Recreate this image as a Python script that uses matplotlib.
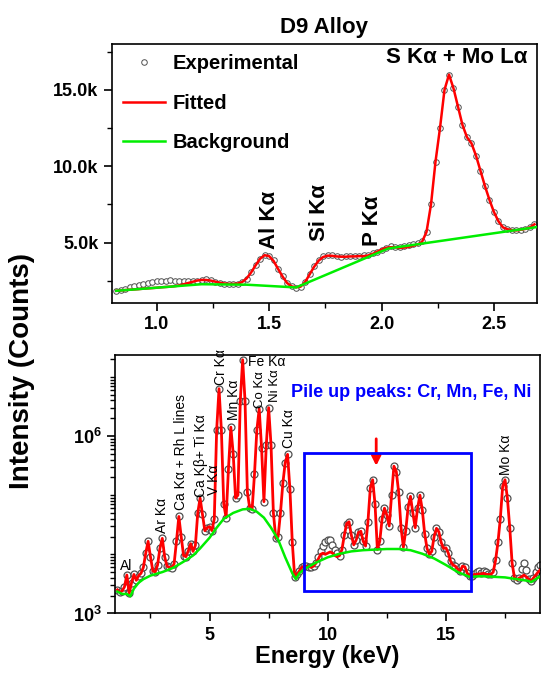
import numpy as np
import matplotlib
matplotlib.use('Agg')
import matplotlib.pyplot as plt
from matplotlib.patches import Rectangle
from matplotlib.ticker import MultipleLocator, FixedLocator, LogLocator, FuncFormatter, NullFormatter

plt.rcParams['font.family'] = ['Liberation Sans', 'DejaVu Sans']
plt.rcParams['font.weight'] = 'bold'
plt.rcParams['mathtext.fontset'] = 'custom'
plt.rcParams['mathtext.rm'] = 'Liberation Sans'
plt.rcParams['mathtext.bf'] = 'Liberation Sans:bold'

# ---- low energy window (counts in thousands), 0.02 keV channels ----
low_energy = np.round(np.arange(0.82, 2.681, 0.02), 2)
low_exp = [1.86, 1.92, 2.00, 2.08, 2.15, 2.22, 2.32, 2.38, 2.42, 2.46,
           2.50, 2.48, 2.54, 2.50, 2.52, 2.48, 2.50, 2.46, 2.52, 2.58,
           2.60, 2.55, 2.45, 2.38, 2.30, 2.27, 2.32, 2.30, 2.40, 2.65,
           3.05, 3.55, 3.95, 4.18, 4.15, 3.85, 3.30, 2.80, 2.38, 2.14,
           2.06, 2.10, 2.45, 2.95, 3.45, 3.85, 4.10, 4.20, 4.18, 4.10,
           4.08, 4.12, 4.10, 4.14, 4.12, 4.18, 4.20, 4.30, 4.40, 4.55,
           4.68, 4.76, 4.74, 4.72, 4.78, 4.85, 4.92, 4.98, 5.10, 5.70,
           7.50, 10.30, 12.50, 15.00, 16.00, 15.10, 13.90, 12.70, 11.90, 11.50,
           10.70, 9.70, 8.70, 7.80, 7.00, 6.40, 6.00, 5.88, 5.82, 5.80,
           5.85, 5.90, 6.00, 6.20]
low_fit = [1.85, 1.87, 1.90, 1.92, 1.94, 1.96, 1.99, 2.01, 2.03, 2.05,
           2.08, 2.10, 2.12, 2.15, 2.20, 2.28, 2.36, 2.44, 2.52, 2.56,
           2.56, 2.52, 2.45, 2.38, 2.33, 2.30, 2.30, 2.32, 2.42, 2.66,
           3.05, 3.52, 3.95, 4.18, 4.12, 3.80, 3.28, 2.78, 2.36, 2.14,
           2.08, 2.12, 2.42, 2.92, 3.42, 3.82, 4.06, 4.15, 4.14, 4.10,
           4.08, 4.08, 4.10, 4.10, 4.12, 4.12, 4.16, 4.26, 4.40, 4.55,
           4.66, 4.70, 4.70, 4.66, 4.68, 4.72, 4.80, 4.88, 5.05, 5.70,
           7.50, 10.30, 12.50, 15.00, 16.00, 15.10, 13.90, 12.70, 11.90, 11.50,
           10.70, 9.70, 8.70, 7.80, 7.00, 6.40, 6.00, 5.88, 5.82, 5.80,
           5.85, 5.90, 6.00, 6.20]
low_bg_energy = [0.82, 1.20, 1.40, 1.62, 2.03, 2.69]
low_bg = [1.85, 2.28, 2.25, 2.07, 4.62, 6.02]

# ---- full spectrum, log10(counts), 0.1 keV channels from 1.1 keV ----
full_energy = np.round(np.arange(1.1, 19.01, 0.1), 1)
full_exp_log = [3.40, 3.36, 3.38, 3.45, 3.65, 3.34, 3.52, 3.66, 3.56, 3.64,
                3.68, 3.78, 4.02, 4.22, 3.96, 3.72, 3.70, 3.82, 4.10, 4.27,
                3.96, 3.80, 3.78, 3.77, 3.84, 4.22, 4.64, 4.30, 3.98, 3.96,
                4.06, 4.18, 4.05, 4.15, 4.70, 4.95, 4.68, 4.40, 4.45, 4.47,
                4.40, 4.60, 6.10, 6.80, 6.10, 4.85, 4.62, 5.45, 6.15, 5.70,
                4.95, 5.00, 6.60, 7.29, 6.60, 5.05, 4.78, 4.76, 5.35, 6.10,
                6.46, 5.80, 4.89, 5.85, 6.48, 5.85, 4.70, 4.28, 4.30, 4.70,
                5.20, 5.55, 5.69, 5.10, 4.20, 3.62, 3.66, 3.72, 3.78, 3.80,
                3.80, 3.79, 3.78, 3.80, 3.86, 3.95, 4.05, 4.14, 4.21, 4.25,
                4.24, 4.16, 4.08, 4.03, 3.98, 4.08, 4.32, 4.52, 4.55, 4.32,
                4.16, 4.24, 4.37, 4.39, 4.22, 4.14, 4.55, 5.12, 5.26, 4.85,
                4.08, 4.22, 4.60, 4.78, 4.66, 4.48, 5.00, 5.49, 5.40, 5.05,
                4.45, 4.12, 4.40, 4.80, 4.98, 4.70, 4.45, 4.78, 5.00, 4.75,
                4.35, 4.10, 4.00, 4.05, 4.30, 4.44, 4.38, 4.20, 4.10, 4.11,
                4.02, 3.88, 3.82, 3.80, 3.75, 3.72, 3.80, 3.79, 3.68, 3.63,
                3.64, 3.66, 3.70, 3.71, 3.69, 3.72, 3.70, 3.66, 3.66, 3.70,
                3.90, 4.20, 4.60, 5.15, 5.26, 4.95, 4.45, 3.85, 3.60, 3.57,
                3.60, 3.75, 3.85, 3.74, 3.58, 3.55, 3.60, 3.70, 3.78, 3.82]
# channels where the fitted curve departs from the measured one
fit_fix_energy = [9.5, 9.6, 9.7, 9.8, 9.9, 10.0, 10.1, 10.2, 10.3, 10.4,
                  16.3, 16.4, 16.5, 16.6, 16.7, 18.2, 18.3, 18.4, 18.8, 18.9, 19.0]
fit_fix_log = [3.85, 3.92, 4.00, 4.02, 4.00, 4.02, 4.04, 4.02, 3.98, 3.96,
               3.66, 3.67, 3.67, 3.68, 3.66, 3.62, 3.65, 3.62, 3.65, 3.70, 3.74]
full_bg_energy = [1.1, 1.3, 1.5, 1.65, 1.8, 2.0, 2.2, 2.5, 3.0, 3.2, 3.5, 4.0, 4.3,
                  4.6, 5.0, 5.3, 5.6, 6.0, 6.4, 6.7, 7.0, 7.3, 7.6, 7.9, 8.2,
                  8.5, 8.65, 8.8, 9.0, 9.5, 10.0, 10.5, 11.0, 11.5, 12.0, 12.5,
                  13.0, 13.5, 14.0, 14.5, 15.0, 15.5, 16.0, 16.5, 17.0, 17.5,
                  18.0, 18.5, 18.6, 19.0]
full_bg_log = [3.37, 3.33, 3.33, 3.29, 3.42, 3.52, 3.58, 3.64, 3.70, 3.73, 3.78,
               3.90, 3.98, 4.10, 4.28, 4.45, 4.60, 4.70, 4.76, 4.77, 4.72, 4.62,
               4.45, 4.25, 3.95, 3.68, 3.58, 3.68, 3.75, 3.86, 3.95, 4.01, 4.05,
               4.07, 4.08, 4.09, 4.09, 4.07, 4.01, 3.93, 3.82, 3.70, 3.62, 3.63,
               3.62, 3.61, 3.58, 3.55, 3.53, 3.63]

full_fit_log = np.array(full_exp_log)
for e, v in zip(fit_fix_energy, fit_fix_log):
    full_fit_log[np.argmin(np.abs(full_energy - e))] = v

GREY = '#505050'
RED = '#ff0000'
GREEN = '#00ee00'

fig = plt.figure(figsize=(5.42, 6.74), dpi=100)
ax1 = fig.add_axes([0.2061, 0.5504, 0.7841, 0.3843])
ax2 = fig.add_axes([0.2122, 0.0898, 0.785, 0.3835])

# top panel: light elements
ax1.plot(low_energy, np.array(low_exp) * 1000, 'o', ms=4, mfc='white', mec=GREY,
         mew=0.7, label='Experimental', zorder=2)
ax1.plot(low_energy, np.array(low_fit) * 1000, color=RED, lw=1.8, label='Fitted', zorder=3)
ax1.plot(low_bg_energy, np.array(low_bg) * 1000, color=GREEN, lw=1.8, label='Background', zorder=4)
ax1.set_xlim(0.8, 2.69)
ax1.set_ylim(1050, 18000)
ax1.xaxis.set_major_locator(MultipleLocator(0.5))
ax1.xaxis.set_minor_locator(MultipleLocator(0.25))
ax1.yaxis.set_major_locator(MultipleLocator(5000))
ax1.yaxis.set_minor_locator(MultipleLocator(2500))
ax1.yaxis.set_major_formatter(FuncFormatter(lambda v, p: f'{v / 1000:.1f}k'))
ax1.set_title('D9 Alloy', fontsize=16, fontweight='bold', pad=8)
ax1.legend(loc='upper left', bbox_to_anchor=(0.027, 0.96), frameon=False, fontsize=14.5,
           handlelength=2.1, handletextpad=0.35, labelspacing=1.02, borderpad=0,
           borderaxespad=0)

ax1.text(1.50, 4600, 'Al Kα', rotation=90, ha='center', va='bottom', fontsize=16)
ax1.text(1.725, 5130, 'Si Kα', rotation=90, ha='center', va='bottom', fontsize=16)
ax1.text(1.96, 4800, 'P Kα', rotation=90, ha='center', va='bottom', fontsize=16)
ax1.text(2.335, 17100, 'S Kα + Mo Lα', ha='center', va='center', fontsize=16)

# bottom panel: full spectrum
ax2.plot(full_energy, 10 ** np.array(full_exp_log), 'o', ms=5, mfc='white', mec=GREY,
         mew=0.9, zorder=2)
ax2.plot(full_energy, 10 ** full_fit_log, color=RED, lw=2.0, zorder=3)
ax2.plot(full_bg_energy, 10 ** np.array(full_bg_log), color=GREEN, lw=1.8, zorder=4)
ax2.set_yscale('log')
ax2.set_xlim(1, 19)
ax2.set_ylim(1e3, 10 ** 7.37)
ax2.xaxis.set_major_locator(MultipleLocator(5))
ax2.xaxis.set_minor_locator(MultipleLocator(2.5))
ax2.yaxis.set_major_locator(FixedLocator([1e3, 1e6]))
ax2.yaxis.set_minor_locator(LogLocator(base=10, subs=np.arange(1, 10), numticks=30))
ax2.yaxis.set_minor_formatter(NullFormatter())
ax2.yaxis.set_major_formatter(FuncFormatter(
    lambda v, p: '$\\mathbf{10^{%d}}$' % int(round(np.log10(v)))))

ax2.add_patch(Rectangle((9.0, 10 ** 3.375), 7.05, 10 ** 5.71 - 10 ** 3.375,
                        fill=False, ec='#0000ff', lw=2, zorder=5))
ax2.annotate('', xy=(12.05, 10 ** 5.45), xytext=(12.05, 10 ** 6.0),
             arrowprops=dict(arrowstyle='-|>', color=RED, lw=2, mutation_scale=14))
ax2.text(8.46, 10 ** 6.73, 'Pile up peaks: Cr, Mn, Fe, Ni', color='#0000ff',
         fontsize=13, ha='left', va='center')

peak_labels = [
    ('Ar Kα', 2.99, 4.36, 10), ('Ca Kα + Rh L lines', 3.79, 4.75, 10),
    ('Ca Kβ+ Ti Kα', 4.64, 4.97, 10), ('V Kα', 5.19, 5.00, 10), ('Cr Kα', 5.48, 6.86, 10),
    ('Mn Kα', 6.04, 6.27, 10), ('Co Kα', 7.12, 6.48, 9.5), ('Ni Kα', 7.76, 6.57, 9.5),
    ('Cu Kα', 8.37, 5.79, 10), ('Mo Kα', 17.53, 5.34, 10),
]
for txt, e, lg, fs in peak_labels:
    ax2.text(e, 10 ** lg, txt, rotation=90, ha='center', va='bottom',
             fontsize=fs, fontweight='normal')
ax2.text(6.61, 10 ** 7.25, 'Fe Kα', ha='left', va='center', fontsize=10, fontweight='normal')
ax2.text(1.47, 10 ** 3.80, 'Al', ha='center', va='center', fontsize=10, fontweight='normal')

for ax in (ax1, ax2):
    ax.tick_params(which='major', direction='out', length=6, width=1.2, labelsize=13,
                   top=False, right=False)
    ax.tick_params(which='minor', direction='out', length=3.5, width=1.0,
                   top=False, right=False)
    for s in ax.spines.values():
        s.set_linewidth(1.2)

fig.text(22 / 542, 1 - 371 / 674, 'Intensity (Counts)', rotation=90, ha='center',
         va='center', fontsize=20)
fig.text(327 / 542, 1 - 656 / 674, 'Energy (keV)', ha='center', va='center', fontsize=17)

fig.savefig('out.png', dpi=100)
